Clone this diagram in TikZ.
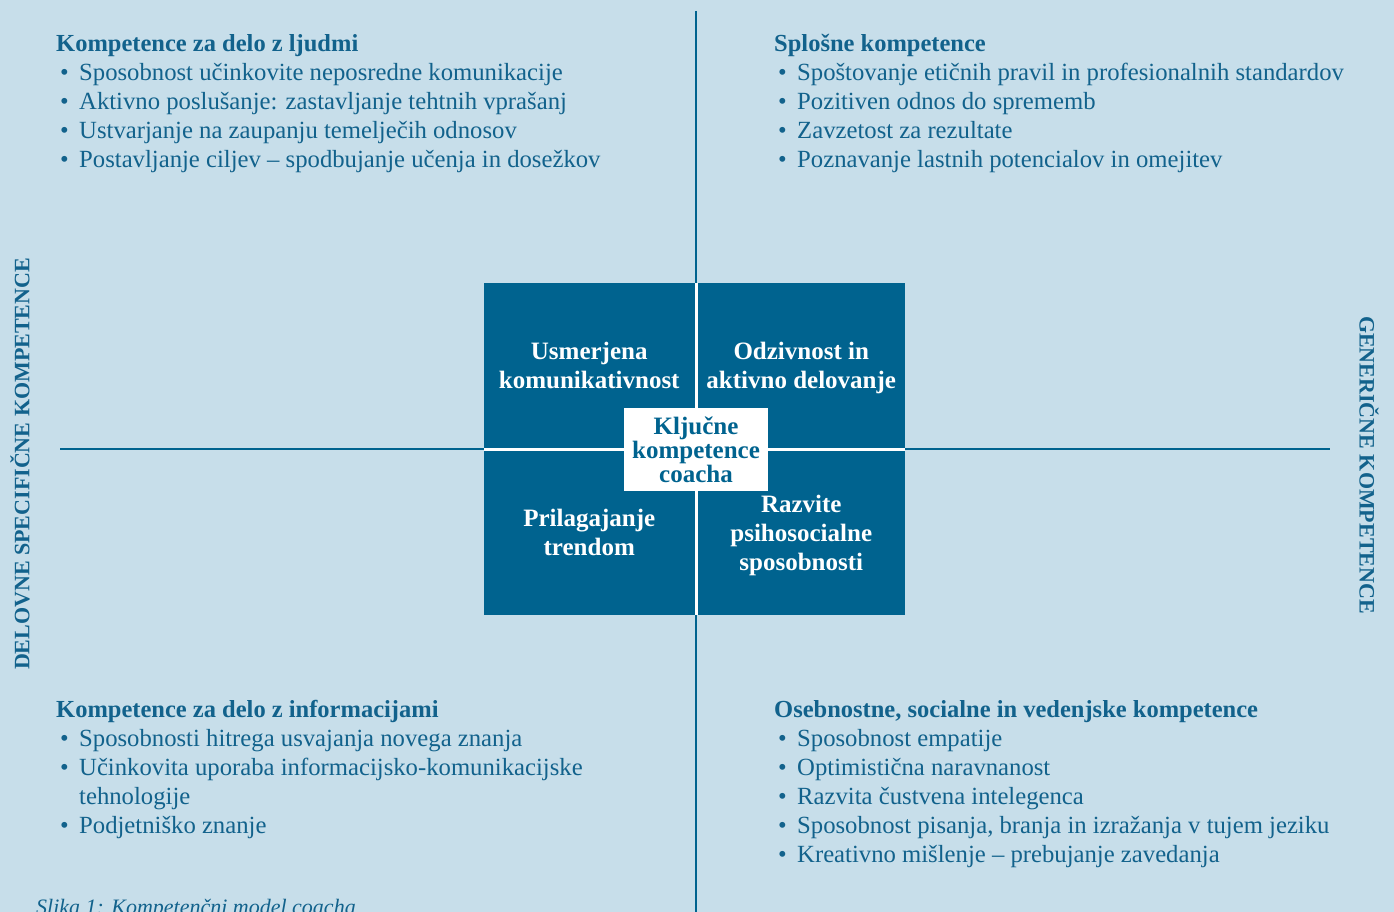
\documentclass[tikz,border=0pt]{standalone}
\usepackage{fontspec}
\setmainfont{Liberation Serif}
\definecolor{bgblue}{RGB}{199,222,234}
\definecolor{boxblue}{RGB}{0,99,143}
\definecolor{txtblue}{RGB}{18,98,140}
\tikzset{
	axis/.style={draw=boxblue, line width=2.5pt},
	head/.style={anchor=base west, inner sep=0pt, text=txtblue, font=\fontsize{24.5}{29}\selectfont\bfseries},
	item/.style={anchor=base west, inner sep=0pt, text=txtblue, font=\fontsize{24.7}{29}\selectfont},
	quad/.style={fill=boxblue, text=white, align=center, inner sep=0pt, text depth=-4pt, font=\fontsize{25}{29}\selectfont\bfseries},
	core/.style={fill=white, text=boxblue, align=center, inner sep=0pt, minimum width=144pt, minimum height=83pt, font=\fontsize{25}{24}\selectfont\bfseries},
	side/.style={text=txtblue, inner sep=0pt, font=\fontsize{22}{26}\selectfont\bfseries}
}
\newcommand{\bul}{\makebox[19pt][l]{\textbullet}}

\begin{document}
\begin{tikzpicture}[x=1pt,y=-1pt]
	\fill[bgblue] (0,0) rectangle (1394,912);
	\clip (0,0) rectangle (1394,912);
	% axes
	\coordinate (ntop) at (696,11);
	\coordinate (nbot) at (696,912);
	\coordinate (wend) at (60,449);
	\coordinate (eend) at (1330,449);
	\draw[axis] (ntop) -- (nbot);
	\draw[axis] (wend) -- (eend);
	% key competences
	\fill[white] (484,283) rectangle (905,615);
	\node[quad, minimum width=210.5pt, minimum height=164.5pt] (usm) at (589.25,365.25) {Usmerjena\\komunikativnost};
	\node[quad, minimum width=207.5pt, minimum height=164.5pt] (odz) at (801.25,365.25) {Odzivnost in\\aktivno delovanje};
	\node[quad, minimum width=210.5pt, minimum height=164.5pt] (pri) at (589.25,532.75) {Prilagajanje\\trendom};
	\node[quad, minimum width=207.5pt, minimum height=164.5pt] (raz) at (801.25,532.75) {Razvite\\psihosocialne\\sposobnosti};
	\node[core] (klj) at (696,449.5) {Ključne\\kompetence\\coacha};
	% side labels
	\node[side, rotate=90] (dsk) at (20,464) {DELOVNE SPECIFIČNE KOMPETENCE};
	\node[side, rotate=-90] (gen) at (1369,465) {GENERIČNE KOMPETENCE};
	% people
	\node[head] (ljh) at (56,52) {Kompetence za delo z ljudmi};
	\foreach \t [count=\i] in {Sposobnost učinkovite neposredne komunikacije,
		Aktivno poslušanje: zastavljanje tehtnih vprašanj,
		Ustvarjanje na zaupanju temelječih odnosov,
		Postavljanje ciljev -- spodbujanje učenja in dosežkov}
		\node[item] (lj\i) at (60,{52+29*\i}) {\bul\t};
	% general
	\node[head] (sph) at (774,52) {Splošne kompetence};
	\foreach \t [count=\i] in {Spoštovanje etičnih pravil in profesionalnih standardov,
		Pozitiven odnos do sprememb,
		Zavzetost za rezultate,
		Poznavanje lastnih potencialov in omejitev}
		\node[item] (sp\i) at (778,{52+29*\i}) {\bul\t};
	% information
	\node[head] (inh) at (56,717) {Kompetence za delo z informacijami};
	\node[item] (in1) at (60,746) {\bul Sposobnosti hitrega usvajanja novega znanja};
	\node[item] (in2) at (60,775) {\bul Učinkovita uporaba informacijsko-komunikacijske};
	\node[item] (in2b) at (79,804) {tehnologije};
	\node[item] (in3) at (60,833) {\bul Podjetniško znanje};
	% personal
	\node[head] (osh) at (774,717) {Osebnostne, socialne in vedenjske kompetence};
	\foreach \t [count=\i] in {Sposobnost empatije,
		Optimistična naravnanost,
		Razvita čustvena intelegenca,
		{Sposobnost pisanja, branja in izražanja v tujem jeziku},
		Kreativno mišlenje -- prebujanje zavedanja}
		\node[item] (os\i) at (778,{717+29*\i}) {\bul\t};
	% caption
	\node[anchor=base west, inner sep=0pt, text=txtblue, font=\fontsize{22}{26}\selectfont\itshape] (cap) at (36,914) {Slika 1: Kompetenčni model coacha};
\end{tikzpicture}
\end{document}
